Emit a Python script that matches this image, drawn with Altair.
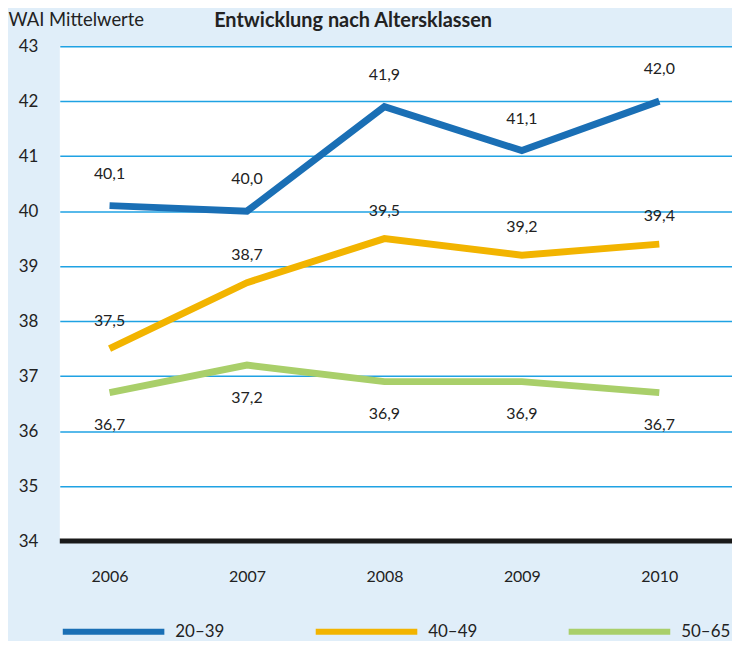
import altair as alt
import pandas as pd

years = [2006, 2007, 2008, 2009, 2010]
groups = ["20–39", "40–49", "50–65"]
v_2039 = [40.1, 40.0, 41.9, 41.1, 42.0]
v_4049 = [37.5, 38.7, 39.5, 39.2, 39.4]
v_5065 = [36.7, 37.2, 36.9, 36.9, 36.7]
colors = ["#1a6fb5", "#f2b400", "#a9cf6a"]
y_ticks = [34, 35, 36, 37, 38, 39, 40, 41, 42, 43]

rows = []
for g, vals in zip(groups, [v_2039, v_4049, v_5065]):
    for yr, v in zip(years, vals):
        rows.append({"Jahr": yr, "Gruppe": g, "Wert": v,
                     "Label": f"{v:.1f}".replace(".", ",")})
df = pd.DataFrame(rows)
base_df = pd.DataFrame({"Wert": [34]})

FONT = "Lato"

x = alt.X("Jahr:Q",
          scale=alt.Scale(domain=[2005.638, 2010.529], nice=False, zero=False),
          axis=alt.Axis(values=years, format="d", title=None, domain=False,
                        ticks=False, grid=False, labelPadding=28,
                        labelFontSize=16, labelFont=FONT, labelColor="#222222"))
y = alt.Y("Wert:Q",
          scale=alt.Scale(domain=[34, 43], nice=False, zero=False),
          axis=alt.Axis(values=y_ticks, format="d", title="WAI Mittelwerte",
                        titleAngle=0, titleX=-52, titleY=-21, titleAlign="left",
                        titleBaseline="alphabetic", titleFont=FONT,
                        titleFontWeight="normal", titleFontSize=18.5,
                        titleColor="#222222",
                        domain=False, ticks=False, grid=True,
                        gridColor="#1fa2e3", gridWidth=1.5,
                        labelPadding=22, labelFontSize=17, labelFont=FONT,
                        labelColor="#222222", labelBaseline="middle"))

color = alt.Color("Gruppe:N",
                  scale=alt.Scale(domain=groups, range=colors),
                  legend=alt.Legend(title=None, orient="none", legendX=0,
                                    legendY=534, direction="horizontal",
                                    columns=3, gridAlign="all",
                                    symbolType="stroke", symbolSize=10404,
                                    symbolStrokeWidth=6, labelFontSize=17,
                                    labelFont=FONT, labelColor="#222222",
                                    labelOffset=8, columnPadding=79))

lines = alt.Chart(df).mark_line(strokeWidth=7, strokeCap="butt").encode(
    x=x, y=y, color=color)

dys = {"20–39": -32, "40–49": -28, "50–65": 33}
texts = []
for g in groups:
    texts.append(
        alt.Chart(df).transform_filter(alt.datum.Gruppe == g)
        .mark_text(dy=dys[g], fontSize=16, font=FONT, color="#222222")
        .encode(x="Jahr:Q", y="Wert:Q", text="Label:N"))

baseline = alt.Chart(base_df).mark_rule(color="#1a1a1a", strokeWidth=5).encode(
    y="Wert:Q")

chart = alt.layer(lines, *texts, baseline).properties(
    width=675, height=497,
    title=alt.Title("Entwicklung nach Altersklassen", anchor="start", dx=155,
                    frame="group", offset=-37, baseline="alphabetic",
                    fontSize=20, font=FONT, fontWeight="bold",
                    color="#222222"),
    autosize=alt.AutoSizeParams(type="none"),
    padding={"left": 52, "top": 37, "right": 0, "bottom": 99},
).configure(background="#e0eef9").configure_view(fill="white", stroke=None)

chart.save("out.html", embed_options={"renderer": "svg", "actions": False})
